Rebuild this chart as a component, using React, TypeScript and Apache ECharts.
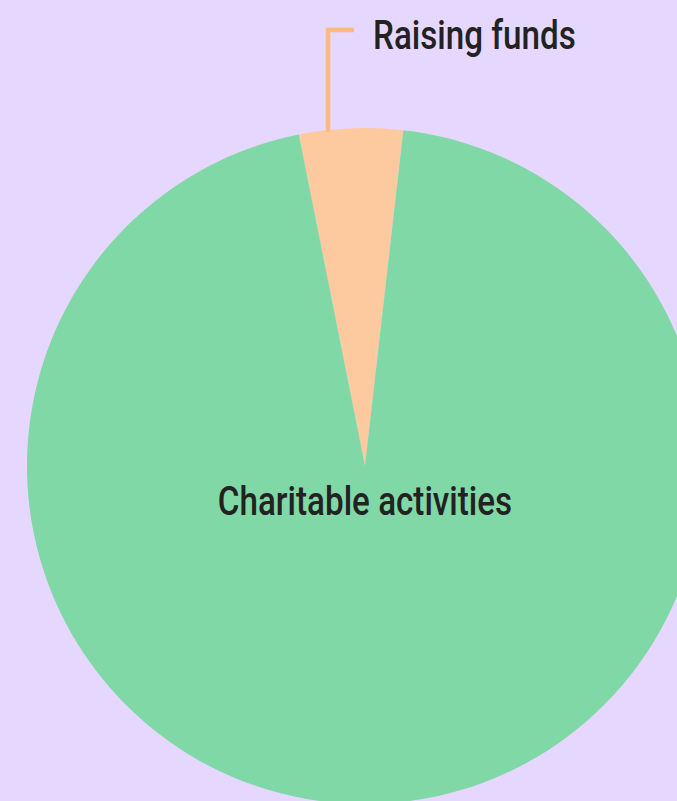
import React, { useEffect, useRef } from "react";
import * as echarts from "echarts";

const categories = ["Raising funds", "Charitable activities"];
const values = [4.95, 95.05];
const colors = ["#fdc99f", "#80d8a6"];

const FONT = "Roboto, sans-serif";

export default function App() {
  const ref = useRef<HTMLDivElement>(null);
  useEffect(() => {
    const chart = echarts.init(ref.current!, null, { renderer: "svg" });
    const cx = 365;
    const cy = 466;
    const textStyle = { fill: "#222", fontSize: 40, fontFamily: FONT, fontWeight: 500 };
    chart.setOption({
      animation: false,
      backgroundColor: "#e6d7fe",
      series: [
        {
          type: "pie",
          center: [cx, cy],
          radius: 338,
          startAngle: 101.3,
          clockwise: true,
          label: { show: false },
          labelLine: { show: false },
          data: categories.map((name, i) => ({
            name,
            value: values[i],
            itemStyle: { color: colors[i] },
          })),
        },
      ],
      graphic: [
        {
          type: "polyline",
          z: 100,
          shape: { points: [[cx - 37, cy - 334], [cx - 37, cy - 436], [cx - 11, cy - 436]] },
          style: { stroke: "#ffb980", lineWidth: 4.5, fill: null },
        },
        {
          type: "text",
          z: 100,
          x: cx + 8,
          y: cy - 431,
          scaleX: 0.83,
          style: { ...textStyle, text: categories[0], textAlign: "left", textVerticalAlign: "middle" },
        },
        {
          type: "text",
          z: 100,
          x: cx,
          y: cy + 35,
          scaleX: 0.83,
          style: { ...textStyle, text: categories[1], textAlign: "center", textVerticalAlign: "middle" },
        },
      ],
    });
    return () => chart.dispose();
  }, []);
  return <div ref={ref} style={{ position: "fixed", left: 0, top: 0, width: 677, height: 801 }} />;
}
